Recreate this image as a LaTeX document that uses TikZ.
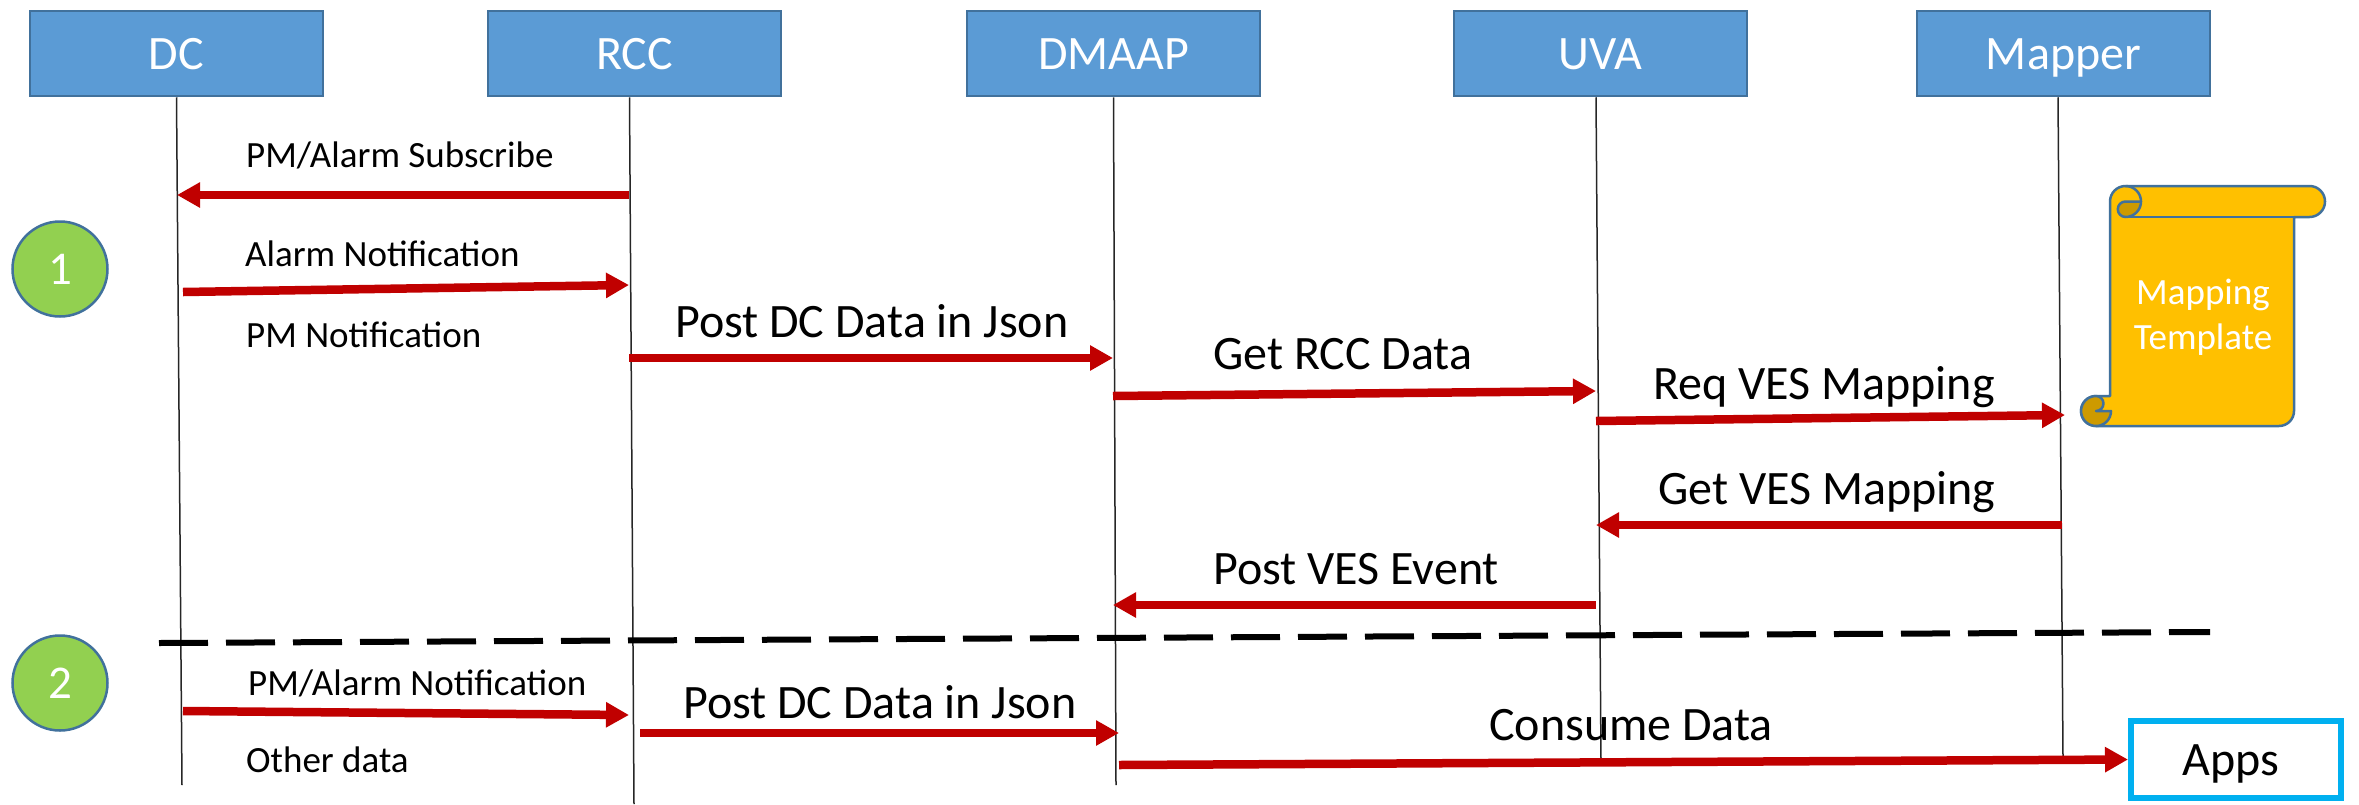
\documentclass[tikz,border=0pt]{standalone}
\usepackage{fontspec}
\setmainfont{Carlito}
\usetikzlibrary{arrows.meta}

\definecolor{boxblue}{HTML}{5B9BD5}
\definecolor{edgeblue}{HTML}{41719C}
\definecolor{msgred}{HTML}{C00000}
\definecolor{stepgreen}{HTML}{92D050}
\definecolor{scrollgold}{HTML}{FFC000}
\definecolor{scrolldark}{HTML}{CD9A00}
\definecolor{appsblue}{HTML}{00B0F0}

\begin{document}
\begin{tikzpicture}[x=1pt,y=-1pt,
      actor/.style={rectangle,draw=edgeblue,fill=boxblue,line width=2.5pt,text=white,
        minimum width=293pt,minimum height=85pt,text height=31pt,text depth=0pt,
        font=\fontsize{48}{56}\selectfont},
      stepmark/.style={circle,draw=edgeblue,fill=stepgreen,line width=2.5pt,text=white,
        minimum size=95pt,inner sep=0pt,font=\fontsize{47}{54}\selectfont},
      lifeline/.style={draw=black!85,line width=1.5pt},
      msg/.style={draw=msgred,line width=8.5pt,-{Triangle[length=23pt,width=24pt]}},
      smalltxt/.style={anchor=base west,inner sep=0pt,font=\fontsize{37}{44}\selectfont},
      bigtxt/.style={anchor=base west,inner sep=0pt,font=\fontsize{48}{56}\selectfont},
      scrollline/.style={draw=edgeblue,line width=2.5pt,line join=round}]
    \useasboundingbox (0,0) rectangle (2359,804);

    \node[actor] (dc) at (176.5,53.5) {DC};
    \node[actor] (rcc) at (634.5,53.5) {RCC};
    \node[actor] (dmaap) at (1113.5,53.5) {DMAAP};
    \node[actor] (uva) at (1600.5,53.5) {UVA};
    \node[actor] (mapper) at (2063.5,53.5) {Mapper};

    % lifelines
    \coordinate (dcend) at (182,785);
    \coordinate (rccend) at (634,804);
    \coordinate (dmaapend) at (1116,785);
    \coordinate (uvaend) at (1601,760);
    \coordinate (mapperend) at (2063,757);
    \draw[lifeline] (dc.south) -- (dcend);
    \draw[lifeline] ([xshift=-5pt]rcc.south) -- (rccend);
    \draw[lifeline] (dmaap.south) -- (dmaapend);
    \draw[lifeline] ([xshift=-4.5pt]uva.south) -- (uvaend);
    \draw[lifeline] ([xshift=-5.5pt]mapper.south) -- (mapperend);

    \node[stepmark] (one) at (60,269) {1};
    \node[stepmark] (two) at (60,683) {2};

    % scroll
    \filldraw[scrollline,fill=scrollgold] (2110,201.5) arc[start angle=180,end angle=90,radius=15.5pt]
      -- (2309.5,186) arc[start angle=90,end angle=-90,radius=15.5pt]
      -- (2294,217) -- (2294,411) arc[start angle=0,end angle=-90,radius=15pt]
      -- (2096,426) arc[start angle=-90,end angle=-270,radius=15pt]
      -- (2110,396) -- cycle;
    \draw[scrollline] (2125.5,186) arc[start angle=90,end angle=0,radius=15.5pt];
    \draw[scrollline] (2125.5,217) -- (2294,217);
    \filldraw[scrollline,fill=scrolldark] (2141,201.5) -- (2125.5,201.5)
      arc[start angle=90,end angle=270,radius=7.75pt]
      arc[start angle=-90,end angle=0,radius=15.5pt] -- cycle;
    \filldraw[scrollline,fill=scrolldark] (2096,396) arc[start angle=90,end angle=270,radius=15pt]
      arc[start angle=-90,end angle=0,radius=15pt] -- (2096,411)
      arc[start angle=-90,end angle=0,radius=7.5pt]
      arc[start angle=0,end angle=90,radius=7.5pt] -- cycle;
    \node[text=white,align=center,inner sep=0pt,font=\fontsize{37}{45}\selectfont] (template) at (2203,317) {Mapping\\Template};

    % messages
    \coordinate (a1s) at (629,195);  \coordinate (a1e) at (177,195);
    \coordinate (a2s) at (183,292);  \coordinate (a2e) at (629,285);
    \coordinate (a3s) at (629,358);  \coordinate (a3e) at (1113,358);
    \coordinate (a4s) at (1113,396); \coordinate (a4e) at (1596,391);
    \coordinate (a5s) at (1596,421); \coordinate (a5e) at (2065,415);
    \coordinate (a6s) at (2062,525); \coordinate (a6e) at (1596,525);
    \coordinate (a7s) at (1596,605); \coordinate (a7e) at (1113,605);
    \coordinate (a8s) at (183,711);  \coordinate (a8e) at (629,715);
    \coordinate (a9s) at (640,733);  \coordinate (a9e) at (1119,733);
    \draw[msg] (a1s) -- (a1e);
    \draw[msg] (a2s) -- (a2e);
    \draw[msg] (a3s) -- (a3e);
    \draw[msg] (a4s) -- (a4e);
    \draw[msg] (a5s) -- (a5e);
    \draw[msg] (a6s) -- (a6e);
    \draw[msg] (a7s) -- (a7e);
    \draw[msg] (a8s) -- (a8e);
    \draw[msg] (a9s) -- (a9e);

    % divider
    \coordinate (divl) at (159,643);
    \coordinate (divr) at (2210,632);
    \draw[line width=6pt,dash pattern=on 49pt off 18pt] (divl) -- (divr);

    \node[rectangle,draw=appsblue,line width=6pt,minimum width=210pt,minimum height=77pt,
      text height=31pt,text depth=0pt,font=\fontsize{48}{56}\selectfont] (apps) at (2236,759.5) {Apps\kern10pt};
    \coordinate (a10s) at (1119,765);
    \draw[msg] (a10s) -- (apps.west);

    % labels
    \node[smalltxt] (subscribe) at (246,167) {PM/Alarm Subscribe};
    \node[smalltxt] (alarm) at (245,266) {Alarm Notification};
    \node[smalltxt] (pm) at (246,347) {PM Notification};
    \node[smalltxt] (pmalarm) at (248,695) {PM/Alarm Notification};
    \node[smalltxt] (other) at (246,772) {Other data};
    \node[bigtxt] (post) at (675,337) {Post DC Data in Json};
    \node[bigtxt] (getrcc) at (1213,369) {Get RCC Data};
    \node[bigtxt] (reqves) at (1653,399) {Req VES Mapping};
    \node[bigtxt] (getves) at (1658,504) {Get VES Mapping};
    \node[bigtxt] (postves) at (1213,584) {Post VES Event};
    \node[bigtxt] (posttwo) at (683,718) {Post DC Data in Json};
    \node[bigtxt] (consume) at (1489,740) {Consume Data};
  \end{tikzpicture}
\end{document}
